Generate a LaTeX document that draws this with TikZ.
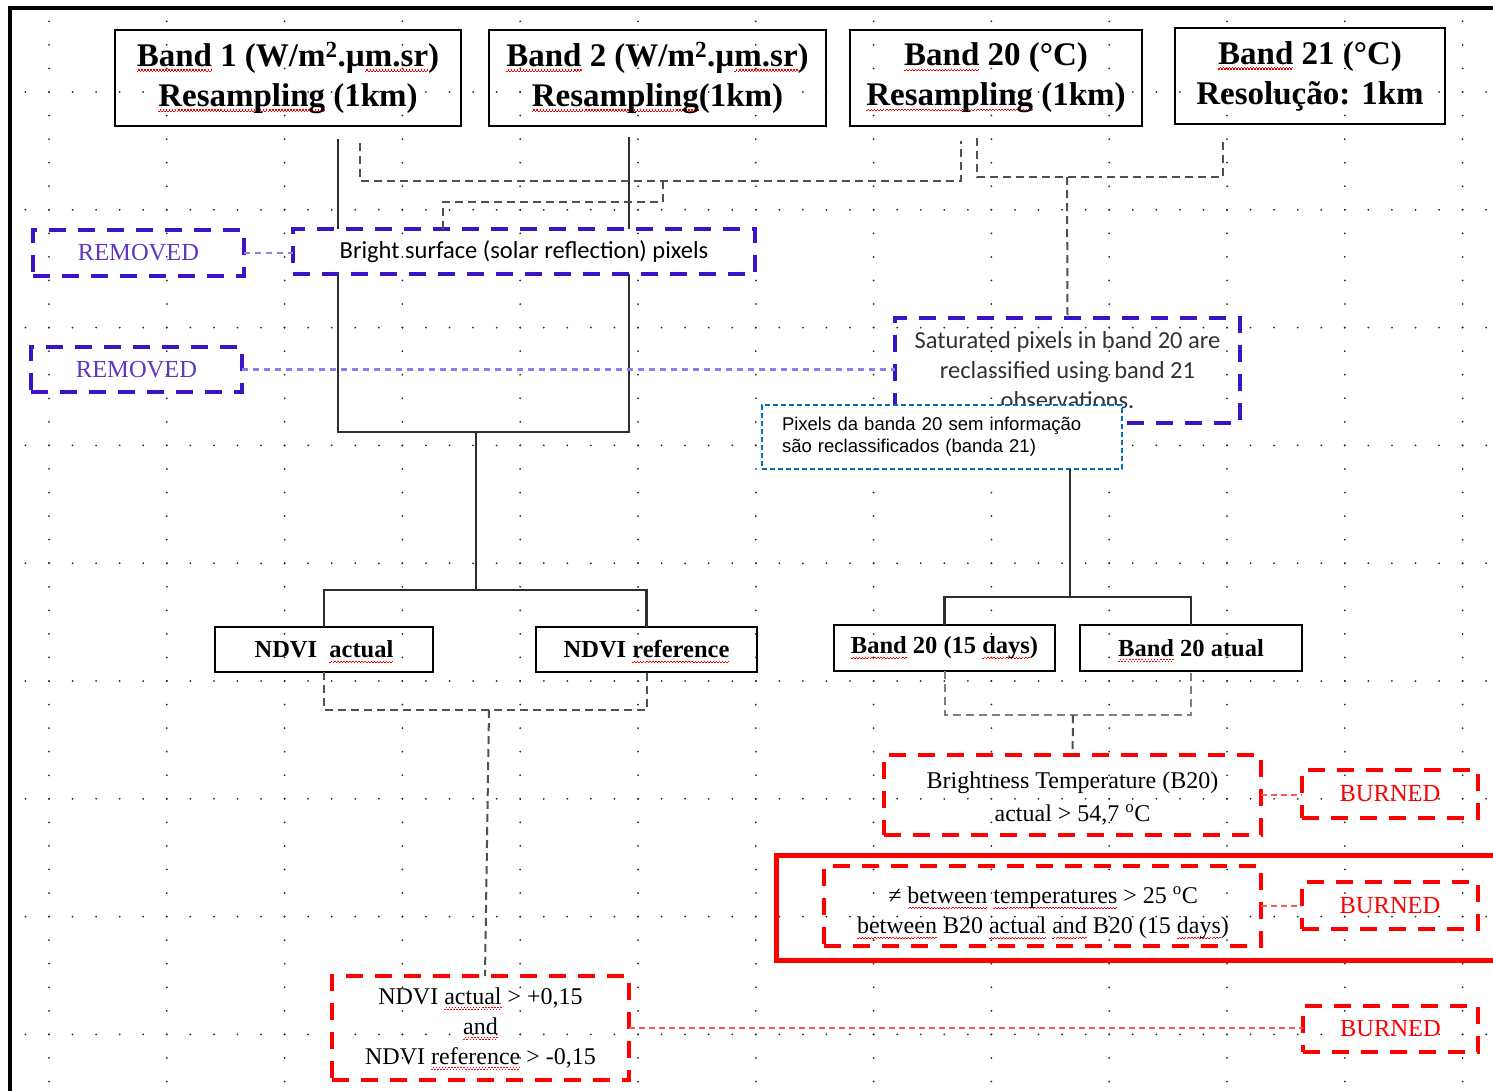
\documentclass[tikz,border=0pt]{standalone}
\usepackage{fontspec}
\setmainfont{Liberation Serif}
\newfontfamily\calib{Carlito}
\newfontfamily\arialf{Liberation Sans}
\usetikzlibrary{calc}

\definecolor{violetline}{RGB}{60,20,200}
\definecolor{violettext}{RGB}{95,55,195}
\definecolor{violetlink}{RGB}{145,125,232}
\definecolor{linkgray}{RGB}{80,80,80}
\definecolor{boxblue}{RGB}{0,112,192}
\definecolor{dotgray}{RGB}{40,40,40}
\definecolor{satgray}{RGB}{50,50,50}
\definecolor{treegray}{RGB}{45,45,45}

% red wavy spell-check underline, built from small rules
\newsavebox\sqbox
\newcommand\sqw[1]{\leavevmode\sbox\sqbox{#1}%
  \rlap{\color{red}\raisebox{-5.5pt}[0pt][0pt]{\hbox to\wd\sqbox{%
    \xleaders\hbox{\rule[0pt]{1.5pt}{1.2pt}\rule[1.5pt]{1.5pt}{1.2pt}}\hfill}}}%
  \usebox\sqbox}

\begin{document}
\begin{tikzpicture}[x=1pt,y=-1pt,
  every node/.style={inner sep=0pt,outer sep=0pt},
  hdr/.style={draw=black,line width=2pt,align=center,
    font=\fontsize{33}{40}\selectfont\bfseries},
  lbl/.style={draw=black,line width=2pt,font=\fontsize{24.5}{30}\selectfont\bfseries},
  vbox/.style={draw=violetline,line width=4pt,dash pattern=on 17pt off 12pt},
  rbox/.style={draw=red,line width=4pt,dash pattern=on 17pt off 12pt},
  cond/.style={align=center,font=\fontsize{24}{30}\selectfont},
  calt/.style={font=\calib\fontsize{24.5}{30}\selectfont},
  burnt/.style={rbox,text=red,font=\fontsize{24.5}{30}\selectfont},
  link/.style={draw=linkgray,line width=2pt,dash pattern=on 8pt off 5pt},
  tree/.style={draw=treegray,line width=2.2pt},
  vlink/.style={draw=violetlink,line width=2.2pt,dash pattern=on 6pt off 5pt},
  rlink/.style={draw=red!65,line width=2.5pt,dash pattern=on 6pt off 4pt},
]
\useasboundingbox (0,0) rectangle (1493,1090);

% dotted page grid
\foreach \r in {0,...,8}{
  \foreach \j in {-1,...,61}{
    \fill[dotgray] ({49+23.56*\j},{92+117.8*\r}) circle (1pt);
  }
}
\foreach \c in {0,...,12}{
  \foreach \i in {-3,...,42}{
    \fill[dotgray] ({49+117.8*\c},{92+23.56*\i}) circle (1pt);
  }
}

% page frame
\draw[line width=4pt] (10,1100) -- (10,7.5) -- (1500,7.5);

% input bands
\node[hdr,minimum width=346pt,minimum height=96pt] (b1) at (288,78)
  {\sqw{Band} 1 (W/m\textsuperscript{2}.µ\sqw{m.sr})\\\sqw{Resampling} (1km)};
\node[hdr,minimum width=337pt,minimum height=96pt] (b2) at (657.5,78)
  {\sqw{Band} 2 (W/m\textsuperscript{2}.µ\sqw{m.sr})\\\sqw{Resampling}(1km)};
\node[hdr,minimum width=292pt,minimum height=96pt] (b20) at (996,78)
  {\sqw{Band} 20 (°C)\\\sqw{Resampling} (1km)};
\node[hdr,minimum width=270pt,minimum height=96pt] (b21) at (1310,76)
  {\sqw{Band} 21 (°C)\\Resolução: 1km};

% removal / reclassification steps
\node[vbox,calt,minimum width=462pt,minimum height=45pt] (bright) at (524,251.5)
  {Bright surface (solar reflection) pixels};
\node[vbox,minimum width=211pt,minimum height=46pt,text=violettext,
  font=\fontsize{24.5}{30}\selectfont] (rem1) at (138.5,253) {REMOVED};
\node[vbox,minimum width=211pt,minimum height=45pt,text=violettext,
  font=\fontsize{24.5}{30}\selectfont] (rem2) at (136.5,369.5) {REMOVED};
\node[vbox,calt,align=center,text=satgray,minimum width=345pt,minimum height=105pt]
  (sat) at (1067.5,370.5)
  {Saturated pixels in band 20 are\\reclassified using band 21\\observations.};

% NDVI and band 20 products
\node[lbl,minimum width=218pt,minimum height=45pt] (ndvia) at (324,649.5)
  {NDVI\ \ \sqw{actual}};
\node[lbl,minimum width=221pt,minimum height=45pt] (ndvir) at (646.5,649.5)
  {NDVI \sqw{reference}};
\node[lbl,minimum width=221pt,minimum height=46pt] (b20d) at (944.5,648)
  {\sqw{Band} 20 (15 \sqw{days})};
\node[lbl,minimum width=222pt,minimum height=46pt] (b20a) at (1191,648)
  {\sqw{Band} 20 atual};

% burn tests
\node[draw=red,line width=5pt,minimum width=740pt,minimum height=105pt] (hl) at (1146,907.5) {};
\node[rbox,minimum width=377pt,minimum height=80pt] (bt) at (1072.5,795) {};
\node[cond,font=\fontsize{24}{33}\selectfont] (btt) at (1072.5,799)
  {Brightness Temperature (B20)\\actual > 54,7 \textsuperscript{o}C};
\node[rbox,minimum width=437pt,minimum height=80pt] (diff) at (1042.5,906) {};
\node[cond] (difft) at (1043,913)
  {≠ \sqw{between} \sqw{temperatures} > 25 \textsuperscript{o}C\\
   \sqw{between} B20 \sqw{actual} \sqw{and} B20 (15 \sqw{days})};
\node[rbox,cond,minimum width=297pt,minimum height=104pt] (ndvic) at (480.5,1028)
  {NDVI \sqw{actual} > +0,15\\\sqw{and}\\NDVI \sqw{reference} > -0,15};
\node[burnt,minimum width=176pt,minimum height=48pt] (burn1) at (1390,794) {BURNED};
\node[burnt,minimum width=176pt,minimum height=47pt] (burn2) at (1390,905.5) {BURNED};
\node[burnt,minimum width=175pt,minimum height=46pt] (burn3) at (1390.5,1029) {BURNED};

% junction points
\coordinate (t1) at (338,139);
\coordinate (t2) at (629,137);
\coordinate (j1) at (476,432);
\coordinate (j1b) at (476,590);
\coordinate (j2) at (1070,597);
\coordinate (j3) at (489,710);
\coordinate (j4) at (1073,715);
\coordinate (d1) at (360,143);
\coordinate (d2) at (961,141);
\coordinate (d3) at (663,181);
\coordinate (d4) at (443,202);
\coordinate (d5) at (977,138);
\coordinate (d6) at (1223,139);
\coordinate (d7) at (1067,177);

% solid tree connectors
\draw[tree] (t1) -- (t1 |- bright.north);
\draw[tree] (t2) -- (t2 |- bright.north);
\draw[tree] (t1 |- bright.south) |- (j1) -| (t2 |- bright.south);
\draw[tree] (j1) -- (j1b);
\draw[tree] (ndvia.north) |- (j1b) -| (ndvir.north);

% dashed connectors
\draw[link] (d1) -- (360,181) -- (961,181) -- (d2);
\draw[link] (d3) -- (663,202) -- (d4) -- (bright.north -| d4);
\draw[link] (d5) -- (977,177) -- (1223,177) -- (d6);
\draw[link] (d7) -- (sat.north);
\draw[link] (ndvia.south) |- (j3) -| (ndvir.south);
\draw[link] (j3) -- ($(ndvic.north)+(4.5,0)$);
\draw[link,draw=gray] (b20d.south) |- (j4) -| (b20a.south);
\draw[link] (j4) -- (bt.north);

% removal links
\draw[vlink] (rem1.east) -- (rem1.east -| bright.west);
\draw[vlink] (rem2.east) -- (rem2.east -| sat.west);

% burn links
\draw[rlink] (bt.east) -- (bt.east -| burn1.west);
\draw[rlink] (diff.east) -- (diff.east -| burn2.west);
\draw[rlink,line width=1.6pt] (ndvic.east) -- (ndvic.east -| burn3.west);

% note box over the saturation step
\node[draw=boxblue,line width=1.5pt,dash pattern=on 5pt off 3pt,fill=white,
  minimum width=360pt,minimum height=64pt,text width=320pt,align=left,
  font=\arialf\fontsize{18.5}{22}\selectfont] (pix) at (942,437)
  {Pixels da banda 20 sem informação\\são reclassificados (banda 21)};
\draw[tree] (pix.south -| j2) -- (j2);
\draw[tree] (b20d.north) |- (j2) -| (b20a.north);
\end{tikzpicture}
\end{document}
